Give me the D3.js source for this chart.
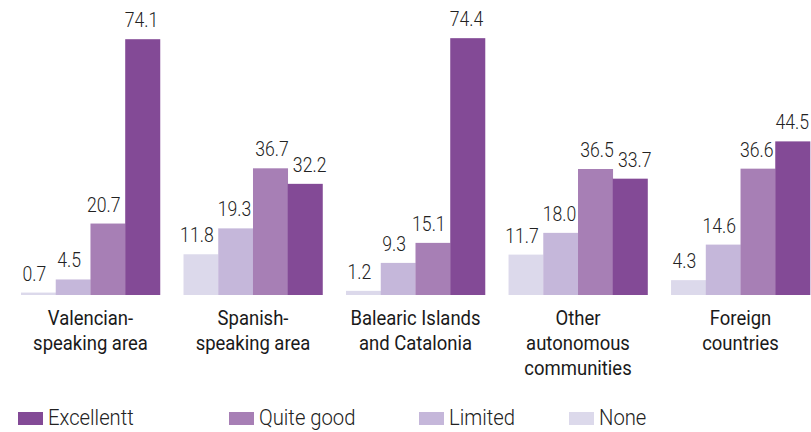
<!DOCTYPE html>
<html>
<head>
<meta charset="utf-8">
<script src="https://cdn.jsdelivr.net/npm/d3@7"></script>
<style>
  body { margin: 0; background: #fff; }
  svg { display: block; font-family: Roboto, sans-serif; }
</style>
</head>
<body>
<div id="svg-container"></div>
<script>
const regions = [
  ['Valencian-', 'speaking area'],
  ['Spanish-', 'speaking area'],
  ['Balearic Islands', 'and Catalonia'],
  ['Other', 'autonomous', 'communities'],
  ['Foreign', 'countries'],
];
const levels = ['None', 'Limited', 'Quite good', 'Excellentt'];
const none = [0.7, 11.8, 1.2, 11.7, 4.3];
const limited = [4.5, 19.3, 9.3, 18.0, 14.6];
const quiteGood = [20.7, 36.7, 15.1, 36.5, 36.6];
const excellent = [74.1, 32.2, 74.4, 33.7, 44.5];
const legendOrder = ['Excellentt', 'Quite good', 'Limited', 'None'];

const WIDTH = 811;
const HEIGHT = 432;
const BASELINE = 295;
const CONDENSE = 0.84;

const colors = {
  None: '#dcd9eb',
  Limited: '#c5b7da',
  'Quite good': '#a77fb5',
  Excellentt: '#834a96',
};

const seriesValues = [none, limited, quiteGood, excellent];
const rows = regions.map((label, i) => ({
  key: i,
  label,
  values: levels.map((level, j) => ({ level, value: seriesValues[j][i] })),
}));

const svg = d3
  .select('#svg-container')
  .append('svg')
  .attr('width', WIDTH)
  .attr('height', HEIGHT);

const xScale = d3
  .scaleBand()
  .domain(rows.map((d) => d.key))
  .range([21, 810])
  .paddingInner(0.145)
  .paddingOuter(0);

const innerScale = d3
  .scaleBand()
  .domain(levels)
  .range([0, xScale.bandwidth()]);

const yScale = d3.scaleLinear().domain([0, 80]).range([BASELINE, BASELINE - 80 * 3.452]);

const groups = svg
  .selectAll('.group')
  .data(rows)
  .join('g')
  .attr('class', 'group')
  .attr('transform', (d) => `translate(${xScale(d.key)},0)`);

groups
  .selectAll('rect')
  .data((d) => d.values)
  .join('rect')
  .attr('x', (d) => innerScale(d.level))
  .attr('width', innerScale.bandwidth() + 0.3)
  .attr('y', (d) => yScale(d.value))
  .attr('height', (d) => BASELINE - yScale(d.value))
  .attr('fill', (d) => colors[d.level]);

// value labels, nudged right when they would collide with the previous one
groups.each(function (row) {
  const groupX = xScale(row.key);
  let prevRight = -Infinity;
  row.values.forEach((d) => {
    const label = d3
      .select(this)
      .append('text')
      .attr('class', 'value')
      .attr('text-anchor', 'middle')
      .attr('font-size', 21)
      .attr('font-weight', 300)
      .attr('fill', '#222')
      .text(d.value.toFixed(1));
    const w = label.node().getComputedTextLength() * CONDENSE;
    let cx = innerScale(d.level) + innerScale.bandwidth() / 2 - 4;
    if (cx - w / 2 < prevRight + 4) cx = prevRight + 4 + w / 2;
    cx = Math.min(cx, WIDTH - 2 - groupX - w / 2);
    prevRight = cx + w / 2;
    label.attr(
      'transform',
      `translate(${cx},${yScale(d.value) - 12}) scale(${CONDENSE},1)`
    );
  });
});

groups
  .append('g')
  .attr('class', 'category')
  .attr('transform', `translate(${xScale.bandwidth() / 2},0)`)
  .selectAll('text')
  .data((d) => d.label)
  .join('text')
  .attr('transform', (_, i) => `translate(0,${325 + i * 25}) scale(0.88,1)`)
  .attr('text-anchor', 'middle')
  .attr('font-size', 21)
  .attr('fill', '#1a1a1a')
  .text((d) => d);

const legendX = [18, 229, 419, 569];
const legend = svg
  .append('g')
  .attr('id', 'legend')
  .selectAll('g')
  .data(legendOrder)
  .join('g')
  .attr('transform', (_, i) => `translate(${legendX[i]},0)`);

legend
  .append('rect')
  .attr('y', 412)
  .attr('width', 25)
  .attr('height', 13)
  .attr('fill', (d) => colors[d]);

legend
  .append('text')
  .attr('transform', `translate(30,425) scale(0.9,1)`)
  .attr('font-size', 22.5)
  .attr('font-weight', 300)
  .attr('fill', '#222')
  .text((d) => d);
</script>
</body>
</html>
